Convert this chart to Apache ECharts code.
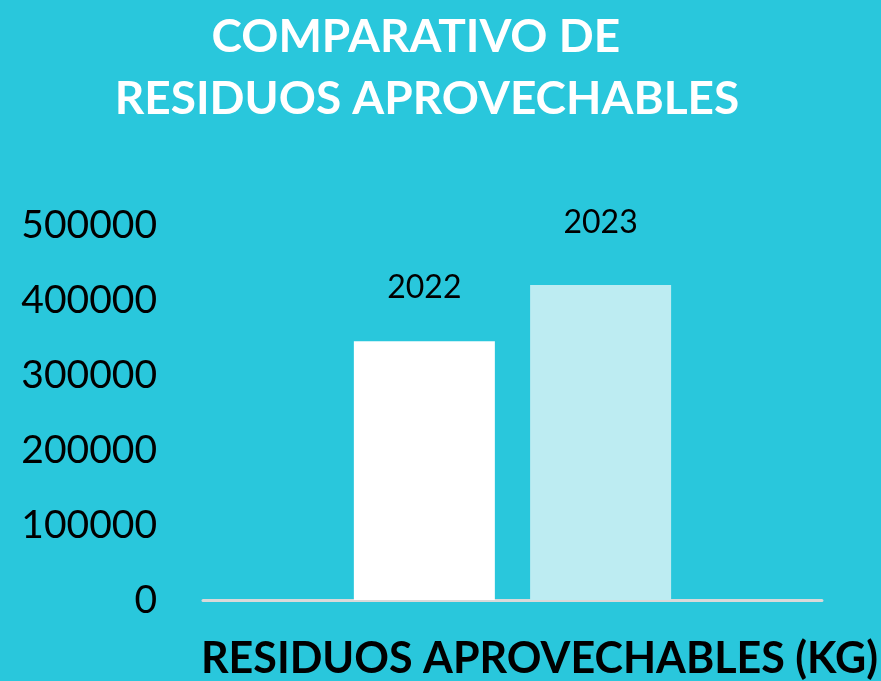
<!DOCTYPE html>
<html>
<head>
<meta charset="utf-8">
<script src="https://cdn.jsdelivr.net/npm/echarts@6/dist/echarts.min.js"></script>
<style>
  html, body { margin: 0; padding: 0; background: #29c7dc; }
  #chart { width: 881px; height: 681px; }
</style>
</head>
<body>
<div id="chart"></div>
<script>
// data
var categories = ["RESIDUOS APROVECHABLES (KG)"];
var years = ["2022", "2023"];
var values2022 = [345000];
var values2023 = [420000];
var yTicks = [0, 100000, 200000, 300000, 400000, 500000];

var myChart = echarts.init(document.getElementById("chart"));

var option = {
    backgroundColor: "#29c7dc",
    title: {
        text: "COMPARATIVO DE  \nRESIDUOS APROVECHABLES",
        left: 422,
        top: 1,
        textAlign: "center",
        textStyle: {
            color: "#fff",
            fontFamily: "Lato",
            fontWeight: "bold",
            fontSize: 46,
            lineHeight: 62
        }
    },
    grid: {
        left: 203,
        right: 58,
        top: 225,
        bottom: 81,
        containLabel: false
    },
    xAxis: {
        type: "category",
        data: categories,
        axisLine: { lineStyle: { color: "#d9d9d9", width: 3 } },
        axisTick: { show: false },
        axisLabel: {
            color: "#000",
            fontFamily: "Lato",
            fontWeight: "bold",
            fontSize: 43,
            margin: 38,
            padding: [0, 0, 0, 54]
        }
    },
    yAxis: {
        type: "value",
        min: yTicks[0],
        max: yTicks[yTicks.length - 1],
        interval: 100000,
        splitLine: { show: false },
        axisLine: { show: false },
        axisTick: { show: false },
        axisLabel: {
            color: "#000",
            fontFamily: "Lato",
            fontSize: 39,
            margin: 46,
            formatter: function (v) { return String(v); }
        }
    },
    series: [
        {
            name: years[0],
            type: "bar",
            data: values2022,
            barWidth: 141,
            barGap: "25%",
            itemStyle: { color: "#ffffff" },
            label: {
                show: true,
                position: "top",
                distance: 38,
                formatter: "{a}",
                color: "#000",
                fontFamily: "Lato",
                fontSize: 32
            }
        },
        {
            name: years[1],
            type: "bar",
            data: values2023,
            barWidth: 141,
            itemStyle: { color: "#bdecf2" },
            label: {
                show: true,
                position: "top",
                distance: 46,
                formatter: "{a}",
                color: "#000",
                fontFamily: "Lato",
                fontSize: 32
            }
        }
    ]
};

option && myChart.setOption(option);
</script>
</body>
</html>
